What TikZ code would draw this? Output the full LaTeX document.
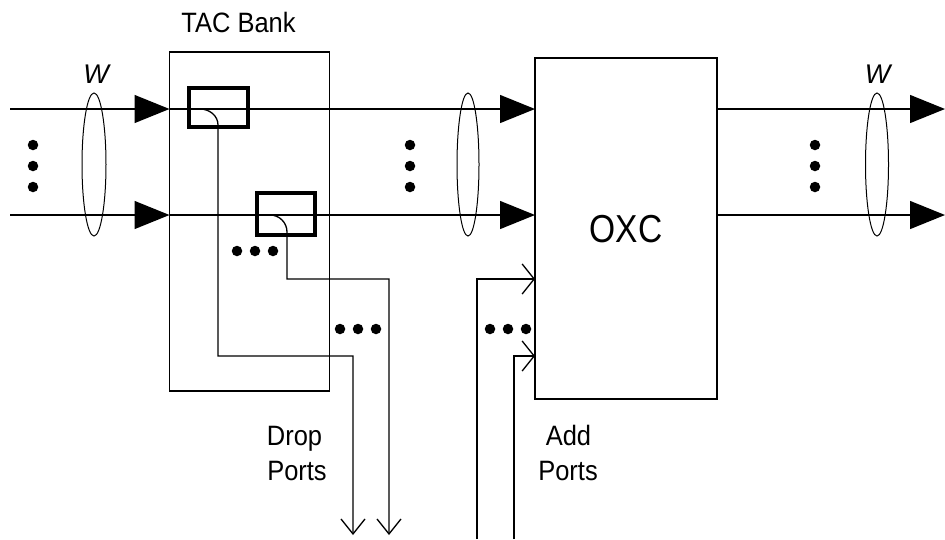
\documentclass[tikz,border=0pt]{standalone}
\usepackage{fontspec}
\setmainfont{Liberation Sans}
\usetikzlibrary{arrows.meta,shapes.geometric}
\begin{document}
\begin{tikzpicture}[x=1pt,y=-1pt,
  ln/.style={line width=1.3pt},
  bigtip/.style={-{Triangle[length=35pt,width=28pt]}},
  droptip/.style={-{Straight Barb[length=15pt,width=24pt]}},
  addtip/.style={-{Straight Barb[length=12pt,width=30pt]}},
  frame/.style={draw, line width=1.3pt, rectangle, inner sep=0pt, outer sep=0pt},
  swbox/.style={draw, line width=4pt, rectangle, inner sep=0pt, outer sep=0pt},
  dot/.style={circle, fill, inner sep=0pt, minimum size=10.5pt},
  bundle/.style={ellipse, draw, line width=1pt, minimum width=24pt, minimum height=143pt, inner sep=0pt},
  lbl/.style={font=\fontsize{28}{32}\selectfont, inner sep=0pt, anchor=base},
  wlbl/.style={font=\fontsize{27}{30}\selectfont\itshape, inner sep=0pt, anchor=base}
]
\useasboundingbox (0,0) rectangle (945,539);

% main boxes
\node[frame, minimum width=160pt, minimum height=339pt] (tac) at (249.5,221.5) {};
\node[frame, minimum width=182pt, minimum height=341pt] (oxc) at (626,228.5) {};
\node[font=\fontsize{39}{42}\selectfont, inner sep=0pt, anchor=base] (oxclbl) at (626,242) {\scalebox{0.86}[1]{OXC}};
\node[lbl] (taclbl) at (238.5,32) {\scalebox{0.91}[1]{TAC Bank}};

% coordinates
\coordinate (a1) at (10,109);
\coordinate (a2) at (10,215);
\coordinate (r1) at (945,109);
\coordinate (r2) at (945,215);
\coordinate (d1s) at (200,109);
\coordinate (d2s) at (270,215);
\coordinate (d1e) at (353,535);
\coordinate (d2e) at (389,535);
\coordinate (ad1) at (477,539);
\coordinate (ad2) at (514,539);

% wavelength lines
\draw[ln, bigtip] (a1) -- (tac.west |- a1);
\draw[ln, bigtip] (a2) -- (tac.west |- a2);
\draw[ln, bigtip] (tac.west |- a1) -- (oxc.west |- a1);
\draw[ln, bigtip] (tac.west |- a2) -- (oxc.west |- a2);
\draw[ln, bigtip] (oxc.east |- a1) -- (r1);
\draw[ln, bigtip] (oxc.east |- a2) -- (r2);

% switch boxes
\node[swbox, minimum width=59pt, minimum height=39pt] (sw1) at (218.5,107.5) {};
\node[swbox, minimum width=58pt, minimum height=42pt] (sw2) at (286,214) {};

% drop paths
\draw[ln, droptip] (d1s) to[out=0,in=90] (218,125) -- (218,356) -- (353,356) -- (d1e);
\draw[ln, droptip] (d2s) to[out=0,in=90] (287,232) -- (287,279) -- (389,279) -- (d2e);

% add paths
\draw[ln, addtip] (ad1) -- (477,279) -- (oxc.west |- 0,279);
\draw[ln, addtip] (ad2) -- (514,356) -- (oxc.west |- 0,356);

% bundles
\node[bundle] (e1) at (94,164.5) {};
\node[bundle, minimum width=22pt] (e2) at (468,164.5) {};
\node[bundle, minimum width=23pt] (e3) at (877,164.5) {};
\node[wlbl] (w1) at (96,83) {W};
\node[wlbl] (w2) at (877.5,83) {W};

% dots
\foreach \y [count=\i] in {145,166,187} {
  \node[dot] (ld\i) at (33,\y) {};
  \node[dot] (md\i) at (410,\y) {};
  \node[dot] (rd\i) at (815,\y) {};
}
\foreach \x [count=\i] in {237,255,273} { \node[dot] (sd\i) at (\x,251) {}; }
\foreach \x [count=\i] in {340,358,376} { \node[dot] (dd\i) at (\x,329) {}; }
\foreach \x [count=\i] in {490,508,526} { \node[dot] (ad\i) at (\x,329) {}; }

% labels
\node[lbl] (drop1) at (294.5,445) {\scalebox{0.91}[1]{Drop}};
\node[lbl] (drop2) at (297,480) {\scalebox{0.91}[1]{Ports}};
\node[lbl] (add1) at (568.5,445) {\scalebox{0.91}[1]{Add}};
\node[lbl] (add2) at (568,480) {\scalebox{0.91}[1]{Ports}};
\end{tikzpicture}
\end{document}
